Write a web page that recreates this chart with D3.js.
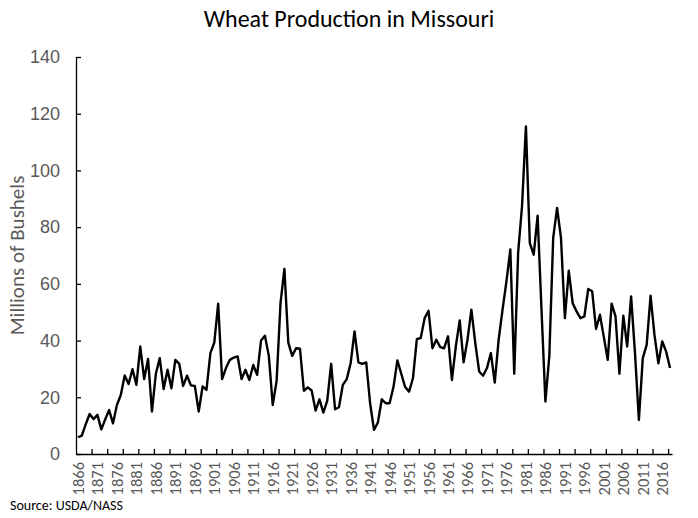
<!DOCTYPE html>
<html>
<head>
<meta charset="utf-8">
<script src="https://cdn.jsdelivr.net/npm/d3@7"></script>
<style>
  body { margin: 0; background: #fff; }
  svg { display: block; font-family: Carlito, Calibri, Lato, "Open Sans", sans-serif; }
  .axis path, .axis line { stroke: #000; stroke-width: 1.3; }
  .axis text { fill: #595959; }
</style>
</head>
<body>
<svg id="chart" width="698" height="518"></svg>
<script>
// production in millions of bushels, 1866-2018
const startYear = 1866;
const production = [
  5.9, 6.5, 10.5, 14.1, 12.3, 13.8, 8.7, 12.2, 15.5, 10.8,
  17.3, 20.8, 27.7, 24.7, 29.9, 24.4, 37.9, 26.4, 33.5, 15.0,
  28.3, 33.8, 22.9, 29.7, 23.2, 33.2, 31.8, 24.0, 27.6, 24.2,
  24.0, 15.0, 23.8, 22.6, 35.6, 39.3, 53.0, 26.4, 30.3, 33.2,
  34.0, 34.4, 26.4, 29.7, 26.1, 31.4, 27.9, 40.0, 41.7, 34.6,
  17.3, 25.8, 53.2, 65.3, 39.3, 34.6, 37.3, 37.1, 22.3, 23.5,
  22.4, 15.3, 19.3, 14.6, 18.8, 31.8, 15.8, 16.5, 24.4, 26.4,
  32.0, 43.2, 32.3, 31.8, 32.3, 17.9, 8.5, 11.1, 19.3, 17.9,
  17.9, 23.6, 33.0, 28.3, 23.6, 22.0, 26.7, 40.5, 40.9, 47.9,
  50.5, 37.3, 40.3, 37.7, 37.3, 41.5, 26.1, 37.9, 47.1, 32.3,
  40.3, 50.9, 39.1, 29.1, 27.6, 30.3, 35.6, 25.2, 40.3, 50.9,
  60.9, 72.1, 28.3, 70.9, 87.4, 115.5, 74.4, 70.3, 84.0, 50.9,
  18.5, 34.4, 76.2, 86.8, 76.2, 47.9, 64.6, 53.2, 50.3, 47.9,
  48.5, 58.2, 57.4, 44.1, 49.1, 41.2, 33.2, 53.0, 48.5, 28.3,
  48.8, 37.9, 55.6, 35.6, 12.0, 33.8, 38.5, 55.8, 42.0, 32.0,
  39.7, 36.1, 30.3
];
const years = production.map((d, i) => startYear + i);
const yTicks = [0, 20, 40, 60, 80, 100, 120, 140];
const labelYears = years.filter((d, i) => i % 5 === 0);
const chartTitle = "Wheat Production in Missouri";
const yTitle = "Millions of Bushels";
const sourceNote = "Source: USDA/NASS";

const svg = d3.select("#chart");
const plotLeft = 76, plotRight = 672, plotTop = 57, plotBottom = 454;

const x = d3.scaleBand().domain(years).range([plotLeft, plotRight]).padding(0);
const xIdx = d3.scaleLinear().domain([0, years.length]).range([plotLeft, plotRight]);
const y = d3.scaleLinear().domain([0, 140]).range([plotBottom, plotTop]);

// title
svg.append("text")
    .attr("x", 349).attr("y", 27)
    .attr("text-anchor", "middle")
    .style("font-size", "24px").style("fill", "#000")
    .text(chartTitle);

// y axis, ticks pointing inside
const yAxis = svg.append("g").attr("class", "axis")
    .attr("transform", `translate(${plotLeft},0)`)
    .call(d3.axisLeft(y).tickValues(yTicks).tickSizeInner(-5).tickSizeOuter(0).tickPadding(16));
yAxis.selectAll("text").style("font-size", "18px");

svg.append("text")
    .attr("transform", `translate(24,${(plotTop + plotBottom) / 2}) rotate(-90)`)
    .attr("text-anchor", "middle")
    .style("font-size", "21px").style("fill", "#595959")
    .text(yTitle);

// x axis: ticks every 4 categories, labels every 5
const tickIdx = d3.range(4, years.length + 1, 4);
svg.append("g").attr("class", "axis")
    .attr("transform", `translate(0,${plotBottom})`)
    .call(d3.axisBottom(xIdx).tickValues(tickIdx).tickSizeInner(-5).tickSizeOuter(0).tickFormat(""));

svg.append("g").selectAll("text")
    .data(labelYears)
    .enter().append("text")
    .attr("transform", d => `translate(${x(d) + x.bandwidth() / 2 + 6},${plotBottom + 8}) rotate(-90)`)
    .attr("text-anchor", "end")
    .style("font-size", "16.5px").style("fill", "#595959")
    .text(d => d);

// series line
const line = d3.line()
    .x((d, i) => x(years[i]) + x.bandwidth() / 2)
    .y(d => y(d));

svg.append("path")
    .datum(production)
    .attr("fill", "none")
    .attr("stroke", "#000")
    .attr("stroke-width", 2.4)
    .attr("stroke-linejoin", "round")
    .attr("d", line);

svg.append("text")
    .attr("x", 10).attr("y", 510)
    .style("font-size", "14px").style("fill", "#000")
    .text(sourceNote);
</script>
</body>
</html>
